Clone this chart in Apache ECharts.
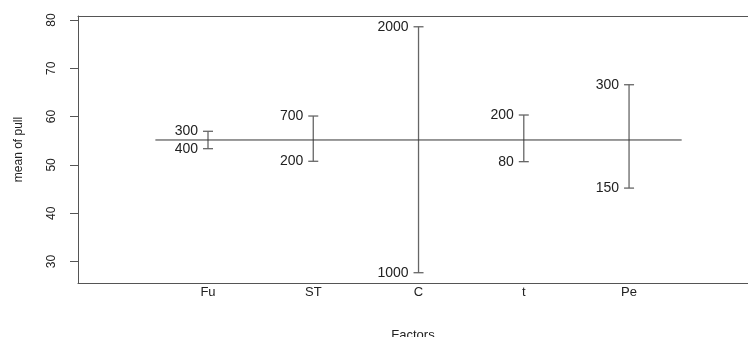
<!DOCTYPE html>
<html>
<head>
<meta charset="utf-8">
<script src="https://cdn.jsdelivr.net/npm/echarts@6/dist/echarts.min.js"></script>
<style>html,body{margin:0;padding:0;background:#fff}#c{width:748px;height:337px}</style>
</head>
<body>
<div id="c"></div>
<script>
var factors = ['Fu', 'ST', 'C', 't', 'Pe'];
var lowValues = [53.36, 50.75, 27.68, 50.67, 45.2];
var highValues = [56.96, 60.12, 78.6, 60.33, 66.6];
var lowLabels = ['400', '200', '1000', '80', '150'];
var highLabels = ['300', '700', '2000', '200', '300'];
var grandMean = 55.16;
var yTicks = [30, 40, 50, 60, 70, 80];

var FONT = 'Liberation Sans, Arial, sans-serif';
var segData = factors.map(function (f, i) {
  return [i + 1, lowValues[i], highValues[i], lowLabels[i], highLabels[i]];
});

var chart = echarts.init(document.getElementById('c'));
chart.setOption({
  animation: false,
  grid: { left: 78, right: 0, top: 16, bottom: 54, containLabel: false, outerBoundsMode: 'none' },
  xAxis: [{
    type: 'value', min: -0.235, max: 6.13,
    splitLine: { show: false },
    axisLine: { show: true, lineStyle: { color: '#555', width: 1 } },
    axisTick: { show: false },
    axisLabel: {
      customValues: [1, 2, 3, 4, 5],
      formatter: function (v) { return factors[Math.round(v) - 1] || ''; },
      color: '#222', fontSize: 13, fontFamily: FONT, margin: 3
    },
    name: 'Factors', nameLocation: 'middle', nameGap: 46,
    nameTextStyle: { color: '#222', fontSize: 13, fontFamily: FONT }
  }, {
    type: 'value', min: -0.235, max: 6.13, position: 'top',
    splitLine: { show: false },
    axisLine: { show: true, onZero: false, lineStyle: { color: '#555', width: 1 } },
    axisTick: { show: false }, axisLabel: { show: false }
  }],
  yAxis: {
    type: 'value', min: 25.55, max: 80.83,
    splitLine: { show: false },
    axisLine: { show: true, onZero: false, lineStyle: { color: '#555', width: 1 } },
    axisTick: { show: true, length: 8, customValues: yTicks, lineStyle: { color: '#555' } },
    axisLabel: {
      customValues: yTicks, rotate: 90, margin: 20,
      color: '#222', fontSize: 12, fontFamily: FONT
    },
    name: 'mean of pull', nameLocation: 'middle', nameGap: 53, nameRotate: 90,
    nameTextStyle: { color: '#222', fontSize: 12, fontFamily: FONT }
  },
  series: [{
    type: 'line',
    data: [[0.5, grandMean], [5.5, grandMean]],
    symbol: 'none',
    lineStyle: { color: '#333', width: 1 },
    z: 3
  }, {
    type: 'custom',
    data: segData,
    clip: false,
    renderItem: function (params, api) {
      var x = api.value(0);
      var lo = api.coord([x, api.value(1)]);
      var hi = api.coord([x, api.value(2)]);
      var st = { stroke: '#666', lineWidth: 1.3 };
      var ts = { fill: '#222', fontSize: 14, fontFamily: FONT, align: 'right', verticalAlign: 'middle' };
      return {
        type: 'group',
        children: [
          { type: 'line', shape: { x1: lo[0], y1: lo[1], x2: hi[0], y2: hi[1] }, style: st },
          { type: 'line', shape: { x1: lo[0] - 5, y1: lo[1], x2: lo[0] + 5, y2: lo[1] }, style: st },
          { type: 'line', shape: { x1: hi[0] - 5, y1: hi[1], x2: hi[0] + 5, y2: hi[1] }, style: st },
          { type: 'text', x: hi[0] - 10, y: hi[1], style: Object.assign({ text: api.value(4) + '' }, ts) },
          { type: 'text', x: lo[0] - 10, y: lo[1], style: Object.assign({ text: api.value(3) + '' }, ts) }
        ]
      };
    },
    z: 2
  }]
});
</script>
</body>
</html>
